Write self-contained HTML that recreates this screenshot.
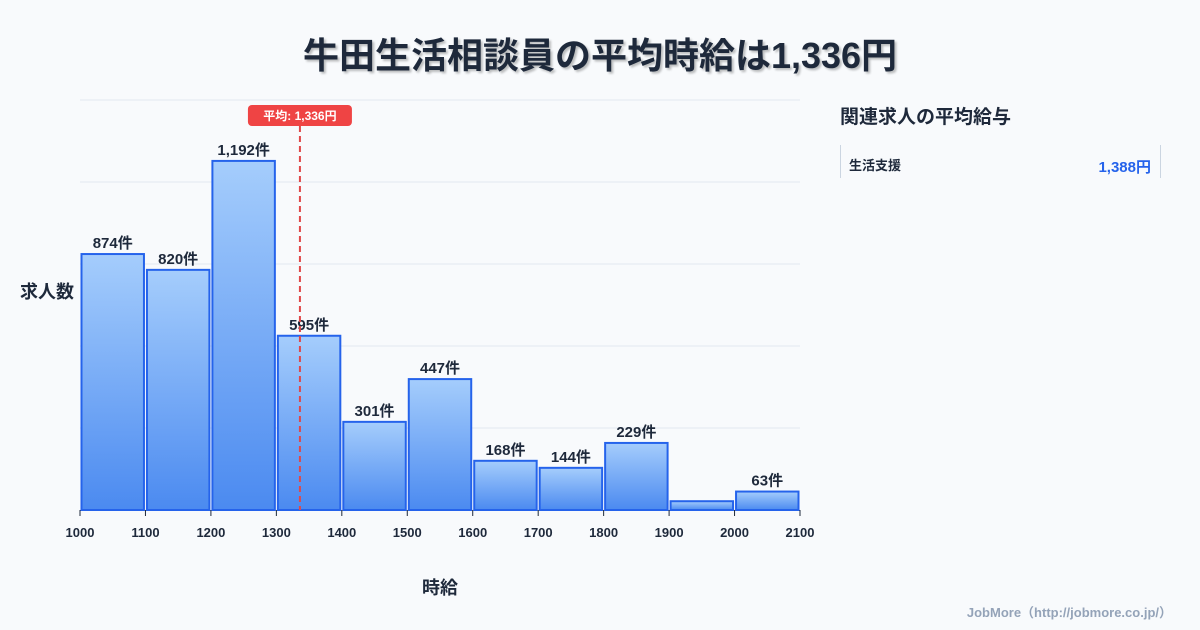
<!DOCTYPE html>
<html><head><meta charset="utf-8"><style>
body{margin:0;width:1200px;height:630px;background:#f8fafc;font-family:"Liberation Sans","Noto Sans CJK JP",sans-serif;overflow:hidden;position:relative}
.t{position:absolute;left:0;width:1200px;top:27px;text-align:center;font-size:36px;font-weight:bold;color:#1e293b;text-shadow:2px 2px 2px rgba(0,0,0,0.25)}
</style></head><body>
<div class="t">牛田生活相談員の平均時給は1,336円</div>
<svg id="c" width="1200" height="630" style="position:absolute;left:0;top:0">
<defs><linearGradient id="g" x1="0" y1="0" x2="0" y2="1"><stop offset="0" stop-color="#a5cdfc"/><stop offset="1" stop-color="#4b8af0"/></linearGradient></defs>
<text x="20" y="298" font-size="18" font-weight="bold" fill="#1e293b">求人数</text>
<text x="440" y="594" font-size="18" font-weight="bold" fill="#1e293b" text-anchor="middle">時給</text>
<text x="840" y="123" font-size="19" font-weight="bold" fill="#1e293b">関連求人の平均給与</text>
<line x1="840.5" y1="145" x2="840.5" y2="178" stroke="#cbd5e1"/>
<line x1="1160.5" y1="145" x2="1160.5" y2="178" stroke="#cbd5e1"/>
<text x="849" y="170" font-size="13" font-weight="bold" fill="#1e293b">生活支援</text>
<text x="1151" y="172" font-size="15" font-weight="bold" fill="#2563eb" text-anchor="end">1,388円</text>
<text x="1172" y="617" font-size="13" font-weight="bold" fill="#94a3b8" text-anchor="end">JobMore（http://jobmore.co.jp/）</text>
<g id="plot"></g>
</svg>
<script>
const binStarts=[1000,1100,1200,1300,1400,1500,1600,1700,1800,1900,2000];
const counts=[874,820,1192,595,301,447,168,144,229,30,63];
const showLabel=[1,1,1,1,1,1,1,1,1,0,1];
const xTicks=[1000,1100,1200,1300,1400,1500,1600,1700,1800,1900,2000,2100];
const yGrid=[0,280,560,840,1120,1400];
const avgWage=1336;
const NS="http://www.w3.org/2000/svg";
const X=v=>80+(v-1000)*720/1100;
const Y=v=>510-v*410/1400;
const g=document.getElementById('plot');
function mk(t,a){const e=document.createElementNS(NS,t);for(const k in a)e.setAttribute(k,a[k]);g.appendChild(e);return e;}
yGrid.forEach((v,i)=>{const l=mk('line',{x1:80,x2:800,y1:Y(v),y2:Y(v),stroke:'#e2e8f0'});

});
binStarts.forEach((b,i)=>{const x0=X(b)+1.5,x1=X(b+100)-1.5,y=Y(counts[i]);
const r=mk('rect',{x:x0,y:y,width:x1-x0,height:510-y,fill:'url(#g)',stroke:'#2563eb','stroke-width':2});


if(showLabel[i]){const t=mk('text',{x:(x0+x1)/2,y:y-6,'text-anchor':'middle','font-size':15,'font-weight':'bold',fill:'#1e293b'});t.textContent=counts[i].toLocaleString('en-US')+'件';

}});
xTicks.forEach(v=>{const l=mk('line',{x1:X(v),x2:X(v),y1:510,y2:516,stroke:'#1e293b'});


const t=mk('text',{x:X(v),y:537,'text-anchor':'middle','font-size':13,'font-weight':'bold',fill:'#1e293b'});t.textContent=v;

});
const ax=X(avgWage);
const al=mk('line',{x1:ax,x2:ax,y1:126,y2:510,stroke:'#e04848','stroke-width':2,'stroke-dasharray':'6,4'});


const ab=mk('rect',{x:ax-52,y:105,width:104,height:21,rx:4,fill:'#ef4444'});


const at=mk('text',{x:ax,y:120,'text-anchor':'middle','font-size':12,'font-weight':'bold',fill:'#fff'});at.textContent='平均: '+avgWage.toLocaleString('en-US')+'円';


</script>
</body></html>
